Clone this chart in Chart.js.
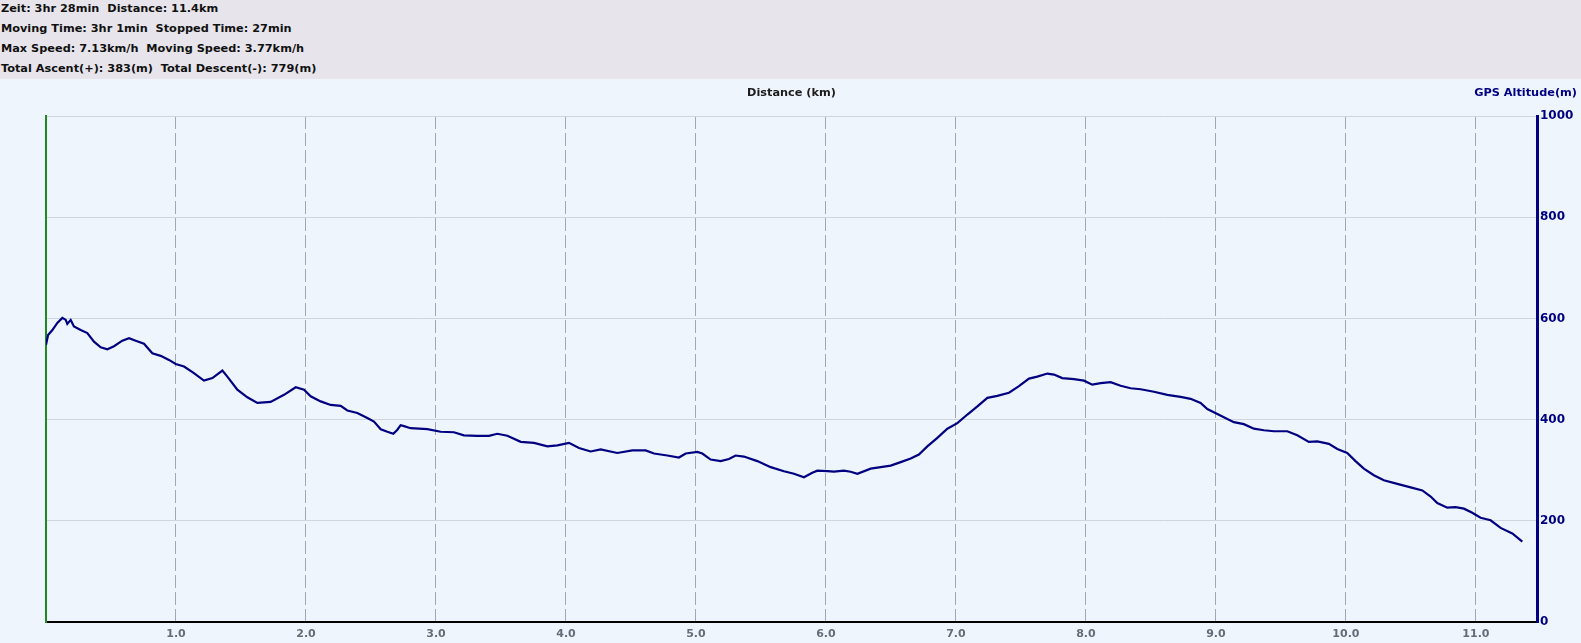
<!DOCTYPE html>
<html>
<head>
<meta charset="utf-8">
<script src="https://cdn.jsdelivr.net/npm/chart.js@4.4.1/dist/chart.umd.min.js"></script>
<style>
    html, body { margin: 0; padding: 0; background: #eef5fd; overflow: hidden; }
    #kopf {
        height: 79px;
        background: #e7e5eb;
        font: bold 11.3px "DejaVu Sans", sans-serif;
        color: #111;
        box-sizing: border-box;
        padding: 0 0 0 1px;
    }
    #kopf div { height: 20px; line-height: 17px; white-space: pre; }
    #conteiner-grafico { position: relative; width: 1581px; height: 564px; background: #eef5fd; }
</style>
</head>
<body>
<div id="kopf"><div>Zeit: 3hr 28min  Distance: 11.4km</div><div>Moving Time: 3hr 1min  Stopped Time: 27min</div><div>Max Speed: 7.13km/h  Moving Speed: 3.77km/h</div><div>Total Ascent(+): 383(m)  Total Descent(-): 779(m)</div></div>
<div id="conteiner-grafico"><canvas id="hoehe"></canvas></div>
<script>
const ctxHoehe = document.getElementById('hoehe');

// Distanz in km
const distanzKm = [
    0.0, 0.016, 0.049, 0.087, 0.126, 0.152, 0.164, 0.19, 0.215, 0.267, 0.318, 0.369, 0.421, 0.472,
    0.523, 0.587, 0.639, 0.69, 0.754, 0.818, 0.882, 0.946, 0.998, 1.062, 1.138, 1.215, 1.28, 1.357,
    1.395, 1.472, 1.549, 1.626, 1.728, 1.831, 1.921, 1.985, 2.036, 2.113, 2.19, 2.267, 2.318, 2.395,
    2.472, 2.523, 2.575, 2.626, 2.672, 2.703, 2.728, 2.754, 2.805, 2.934, 3.036, 3.138, 3.215, 3.318,
    3.408, 3.472, 3.549, 3.652, 3.754, 3.857, 3.934, 4.023, 4.1, 4.19, 4.267, 4.395, 4.511, 4.613,
    4.677, 4.78, 4.869, 4.921, 5.011, 5.049, 5.113, 5.19, 5.254, 5.305, 5.369, 5.472, 5.575, 5.677,
    5.754, 5.831, 5.895, 5.934, 6.011, 6.062, 6.138, 6.19, 6.242, 6.344, 6.421, 6.498, 6.575, 6.652,
    6.715, 6.78, 6.857, 6.934, 7.011, 7.088, 7.165, 7.242, 7.318, 7.408, 7.485, 7.562, 7.626, 7.703,
    7.754, 7.818, 7.908, 7.985, 8.049, 8.113, 8.19, 8.267, 8.344, 8.421, 8.523, 8.626, 8.728, 8.805,
    8.882, 8.934, 9.011, 9.088, 9.138, 9.215, 9.292, 9.369, 9.446, 9.549, 9.626, 9.715, 9.78, 9.869,
    9.934, 10.01, 10.074, 10.138, 10.215, 10.292, 10.395, 10.498, 10.588, 10.652, 10.703, 10.78,
    10.844, 10.908, 10.972, 11.036, 11.113, 11.19, 11.28, 11.357
];

// GPS Hoehe in m
const hoeheM = [
    548, 567, 577, 591, 601, 597, 589, 597, 584, 577, 571, 554, 543, 539,
    545, 556, 561, 556, 550, 531, 526, 518, 510, 505, 492, 477, 482, 497,
    485, 459, 444, 433, 435, 449, 464, 459, 446, 436, 429, 427, 418, 413,
    403, 396, 381, 376, 372, 380, 389, 387, 383, 381, 376, 375, 369, 368,
    368, 372, 368, 356, 354, 347, 349, 354, 344, 337, 341, 334, 339, 339,
    333, 329, 325, 333, 336, 333, 321, 318, 322, 329, 327, 318, 306, 298,
    293, 286, 295, 299, 298, 297, 299, 297, 293, 303, 306, 309, 316, 323,
    331, 347, 364, 382, 393, 410, 426, 443, 447, 453, 466, 481, 485, 491,
    489, 482, 480, 477, 469, 472, 474, 467, 462, 460, 455, 449, 445, 441,
    433, 421, 411, 401, 395, 391, 382, 379, 377, 377, 369, 356, 357, 352,
    342, 334, 318, 303, 290, 280, 273, 266, 260, 248, 235, 226,
    227, 224, 216, 206, 201, 186, 175, 159
];

const distanzMax = 11.47;
const hoeheMin = 0;
const hoeheMax = 1000;
const hoeheSchritt = 200;
const distanzSchritt = 1;

const titelX = 'Distance (km)';
const titelY = 'GPS Altitude(m)';

const pontos = distanzKm.map((d, i) => ({ x: d, y: hoeheM[i] }));

// Achsentitel oben
const titelPlugin = {
    id: 'titel',
    afterDraw(chart) {
        const ctx = chart.ctx;
        ctx.save();
        ctx.font = 'bold 11.3px "DejaVu Sans", sans-serif';
        ctx.textBaseline = 'middle';
        ctx.fillStyle = '#1c1c1c';
        ctx.textAlign = 'center';
        ctx.fillText(titelX, (chart.chartArea.left + chart.chartArea.right) / 2, 14);
        ctx.fillStyle = '#000080';
        ctx.textAlign = 'right';
        ctx.fillText(titelY, chart.width - 4, 14);
        ctx.restore();
    }
};

new Chart(ctxHoehe, {
    type: 'line',
    data: {
        datasets: [{
            label: titelY,
            data: pontos,
            borderColor: '#000080',
            borderWidth: 2.2,
            pointRadius: 0,
            tension: 0,
            yAxisID: 'y'
        }]
    },
    options: {
        responsive: true,
        maintainAspectRatio: false,
        animation: false,
        layout: { padding: { top: 37, right: 0, left: 0, bottom: 0 } },
        plugins: {
            legend: { display: false },
            tooltip: { enabled: false }
        },
        scales: {
            x: {
                type: 'linear',
                min: 0,
                max: distanzMax,
                afterFit(axis) { axis.height = 21; },
                ticks: {
                    stepSize: distanzSchritt,
                    includeBounds: false,
                    maxRotation: 0,
                    autoSkip: false,
                    padding: 6,
                    color: '#646c78',
                    font: { size: 11, weight: 'bold', family: '"DejaVu Sans"' },
                    callback: v => v === 0 ? '' : v.toFixed(1)
                },
                grid: {
                    color: '#a3a8b0',
                    lineWidth: 1,
                    drawTicks: false
                },
                border: { display: true, color: '#000000', width: 2, dash: [13, 4] }
            },
            y: {
                position: 'right',
                min: hoeheMin,
                max: hoeheMax,
                afterFit(axis) { axis.width = 44; },
                ticks: {
                    stepSize: hoeheSchritt,
                    padding: 3,
                    color: '#000080',
                    font: { size: 12, weight: 'bold', family: '"DejaVu Sans"' },
                    callback: v => String(v)
                },
                grid: {
                    color: '#cfd5de',
                    lineWidth: 1,
                    drawTicks: false
                },
                border: { display: true, color: '#000080', width: 3 }
            },
            links: {
                position: 'left',
                min: hoeheMin,
                max: hoeheMax,
                afterFit(axis) { axis.width = 46; },
                ticks: { display: false },
                grid: { display: false, drawTicks: false },
                border: { display: true, color: '#1f8a1f', width: 2 }
            }
        }
    },
    plugins: [titelPlugin]
});
</script>
</body>
</html>
